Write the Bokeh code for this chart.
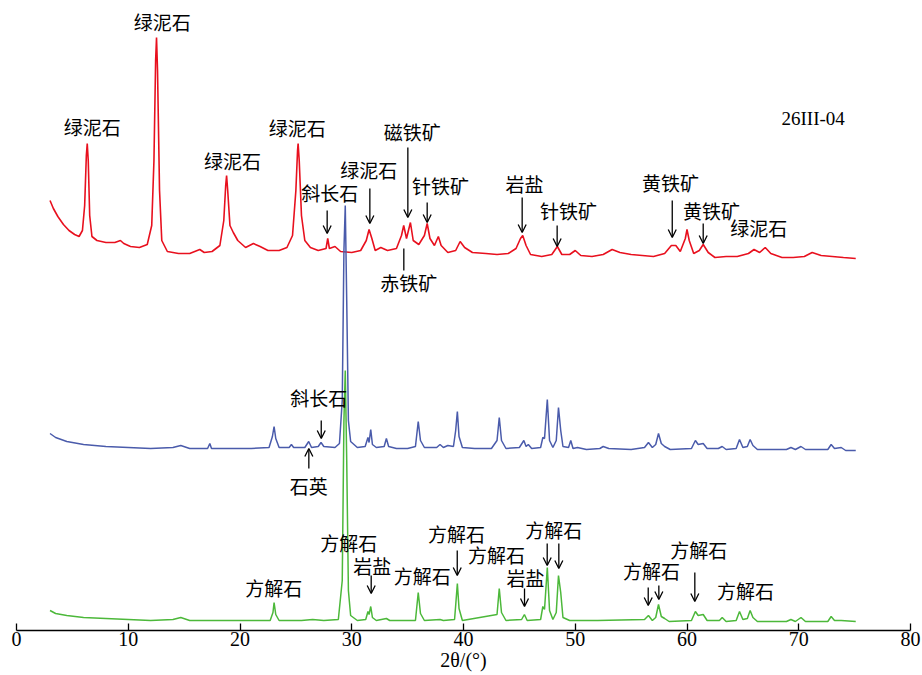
from bokeh.plotting import figure
from bokeh.models import Range1d, FixedTicker, ColumnDataSource, Arrow, OpenHead
from bokeh.core.properties import value
from bokeh.embed import file_html
from bokeh.resources import INLINE

# ---------------- data (2θ in degrees, intensity in arbitrary units incl. offset) -------------
red_x = [3.0, 3.3, 3.7, 4.2, 4.7, 5.2, 5.6, 5.9, 6.1, 6.25, 6.33, 6.42, 6.55, 6.75, 7.2, 8.0,
         8.8, 9.3, 9.6, 10.2, 11.0, 11.7, 12.1, 12.3, 12.45, 12.53, 12.62, 12.8, 13.0, 13.5,
         14.5, 15.5, 16.4, 16.8, 17.5, 18.2, 18.55, 18.72, 18.8, 18.9, 19.1, 19.4, 19.8, 20.5,
         21.2, 21.8, 22.5, 23.5, 24.2, 24.7, 25.0, 25.15, 25.2, 25.3, 25.5, 25.8, 26.3, 27.0,
         27.7, 27.85, 28.0, 28.5, 29.0, 30.0, 30.8, 31.3, 31.55, 31.8, 32.1, 32.6, 33.2, 34.0,
         34.45, 34.65, 34.9, 35.25, 35.5, 36.0, 36.5, 36.75, 37.0, 37.4, 37.75, 38.0, 38.6,
         39.3, 39.7, 40.1, 40.8, 42.0, 43.0, 44.0, 44.7, 45.1, 45.3, 45.6, 46.0, 47.0, 47.9,
         48.4, 48.8, 49.5, 50.0, 50.5, 51.5, 52.5, 53.3, 54.0, 55.0, 56.0, 57.0, 58.0, 58.6,
         59.0, 59.4, 59.85, 60.0, 60.2, 60.6, 61.1, 61.45, 61.9, 62.5, 63.5, 64.5, 65.5, 66.0,
         66.5, 67.0, 67.5, 68.5, 69.5, 70.5, 71.2, 72.0, 73.0, 74.0, 75.1]
red_y = [430, 422, 414, 406, 400, 396, 394, 400, 425, 475, 487, 470, 415, 394, 390, 388,
         388, 390, 387, 384, 383, 386, 405, 470, 570, 593, 560, 440, 390, 379,
         377, 377, 381, 378, 379, 385, 410, 445, 455, 440, 405, 398, 390, 383,
         387, 384, 380, 380, 383, 395, 440, 480, 487, 470, 415, 390, 383, 380,
         382, 392, 382, 384, 379, 378, 380, 390, 401, 392, 380, 383, 380, 382,
         395, 405, 392, 408, 390, 386, 395, 407, 392, 385, 394, 385, 378,
         380, 389, 383, 378, 377, 376, 377, 382, 392, 395, 385, 376, 374, 376,
         384, 376, 376, 380, 375, 374, 376, 381, 378, 376, 375, 374, 377, 385,
         385, 379, 392, 401, 390, 377, 380, 386, 378, 373, 374, 374, 377, 381,
         378, 383, 377, 373, 373, 374, 378, 375, 374, 373, 372]

blue_x = [3.0, 3.5, 4.5, 6.0, 8.0, 10.0, 12.0, 14.0, 14.7, 15.5, 17.1, 17.3, 17.45, 19.0, 21.0,
          22.6, 22.9, 23.05, 23.2, 23.5, 24.4, 24.6, 24.8, 25.8, 26.15, 26.4, 27.0, 27.25,
          27.5, 28.5, 28.9, 29.15, 29.3, 29.42, 29.55, 29.7, 29.9, 30.5, 31.2, 31.45, 31.55,
          31.7, 31.85, 32.2, 32.9, 33.1, 33.3, 34.0, 35.0, 35.7, 35.95, 36.15, 36.5, 37.6,
          37.9, 38.2, 38.6, 39.1, 39.3, 39.45, 39.6, 39.9, 41.0, 42.5, 43.0, 43.2, 43.4, 43.8,
          45.0, 45.4, 45.6, 45.8, 46.1, 46.9, 47.1, 47.25, 47.5, 47.7, 48.0, 48.3, 48.5, 48.7,
          48.9, 49.4, 49.6, 49.8, 50.2, 51.0, 52.2, 52.5, 53.0, 55.0, 56.2, 56.55, 56.9, 57.2,
          57.45, 57.7, 58.0, 58.5, 60.4, 60.75, 61.0, 61.45, 61.8, 62.8, 63.15, 63.5, 64.4,
          64.7, 65.0, 65.4, 65.65, 65.9, 66.3, 68.9, 69.3, 69.7, 70.2, 70.6, 72.6, 72.9, 73.2,
          73.8, 74.2, 75.1]
blue_y = [197, 193, 189, 186, 184, 183, 182, 183, 185, 182, 182, 187, 182, 182, 182,
          183, 194, 204, 192, 183, 183, 186, 183, 183, 189, 183, 184, 188,
          184, 183, 187, 230, 380, 425, 330, 210, 189, 183, 184, 193, 188,
          201, 186, 183, 184, 192, 184, 182, 182, 184, 209, 190, 183, 183,
          186, 183, 185, 184, 200, 219, 194, 183, 182, 182, 190, 213, 190, 182,
          183, 190, 184, 186, 182, 183, 193, 192, 231, 190, 183, 190, 223, 200,
          184, 183, 190, 182, 183, 181, 182, 184, 182, 181, 183, 188, 183, 186,
          197, 187, 184, 181, 182, 190, 186, 187, 182, 182, 184, 181, 182,
          191, 183, 184, 191, 185, 181, 181, 183, 181, 184, 181, 181, 186, 182,
          183, 180, 180]

green_x = [3.0, 3.5, 4.5, 6.0, 8.0, 10.0, 12.0, 14.0, 14.7, 15.5, 17.0, 19.0, 21.0, 22.7,
           22.95, 23.05, 23.2, 23.5, 25.5, 26.5, 27.5, 28.8, 29.15, 29.3, 29.42, 29.55, 29.7,
           29.9, 30.5, 31.25, 31.45, 31.55, 31.7, 31.85, 32.2, 33.1, 33.4, 35.7, 35.95, 36.15,
           36.5, 37.9, 38.2, 39.2, 39.3, 39.45, 39.6, 39.9, 43.0, 43.2, 43.4, 43.8, 45.2,
           45.45, 45.7, 46.9, 47.1, 47.25, 47.5, 47.7, 48.0, 48.3, 48.5, 48.7, 48.9, 49.5,
           52.0, 56.2, 56.55, 56.9, 57.2, 57.45, 57.7, 58.0, 58.4, 60.4, 60.75, 61.0, 61.45,
           61.8, 62.9, 63.15, 63.5, 64.4, 64.7, 65.0, 65.4, 65.65, 65.9, 66.3, 68.9, 69.3,
           69.7, 70.2, 70.6, 72.6, 72.9, 73.2, 73.8, 75.1]
green_y = [20, 17, 15, 13, 12, 11, 10, 11, 13, 10, 10, 10, 10, 10,
           18, 28, 16, 10, 10, 11, 10, 11, 50, 210, 260, 170, 40,
           15, 10, 11, 19, 16, 24, 13, 10, 12, 10, 10, 38, 17,
           10, 11, 10, 11, 25, 47, 22, 10, 16, 42, 18, 10, 11,
           16, 10, 11, 24, 21, 63, 20, 11, 18, 55, 38, 13, 10,
           10, 11, 15, 10, 13, 26, 14, 12, 9, 10, 19, 15, 16,
           10, 10, 13, 9, 10, 19, 11, 12, 20, 13, 9, 9, 11,
           9, 13, 9, 9, 14, 10, 10, 9]

# phase labels
lab_text = ["绿泥石", "绿泥石", "绿泥石", "绿泥石", "斜长石", "绿泥石", "磁铁矿", "针铁矿",
            "赤铁矿", "岩盐", "针铁矿", "黄铁矿", "黄铁矿", "绿泥石",
            "斜长石", "石英",
            "方解石", "方解石", "岩盐", "方解石", "方解石", "方解石", "岩盐", "方解石",
            "方解石", "方解石", "方解石"]
lab_x = [6.77, 13.04, 19.33, 25.12, 28.04, 31.53, 35.41, 37.94,
         35.11, 45.45, 49.4, 58.52, 62.19, 66.42,
         27.05, 26.16,
         23.02, 29.74, 31.83, 36.3, 39.37, 42.95, 45.55, 48.08,
         56.82, 61.06, 65.23]
lab_y = [504, 609, 470, 503, 438, 461, 499, 445,
         348, 447, 420, 448, 420, 403,
         233, 145,
         43, 88, 65, 55, 97, 76, 53, 101,
         60, 81, 40]

# arrows: x, start, end (pointing to peaks)
arr_x = [27.8, 31.62, 35.02, 36.75, 45.25, 48.38, 58.68, 61.45,
         27.27, 26.16,
         31.74, 39.44, 45.46, 47.49, 48.53, 56.53, 57.48, 60.7]
arr_y0 = [420, 442, 483, 428, 433, 405, 430, 407,
          210, 162,
          55, 80, 42, 87, 87, 43, 45, 58]
arr_y1 = [397, 407, 413, 408, 398, 384, 393, 387,
          192, 182,
          37, 55, 24, 65, 62, 25, 31, 29]

# leader line without head (赤铁矿)
lead_x = [34.66, 34.66]
lead_y = [360, 382]

sample_name = "26III-04"
sample_pos = (71.29, 512)
x_ticks = [0, 10, 20, 30, 40, 50, 60, 70, 80]
x_title = "2θ/(°)"

SERIF = "'Liberation Serif', 'Times New Roman', serif"

# ---------------- figure ----------------
p = figure(frame_width=894, frame_height=622, output_backend="svg", toolbar_location=None,
           x_range=Range1d(0, 80), y_range=Range1d(0, 622),
           min_border_left=16, min_border_right=12, min_border_top=8, min_border_bottom=0)
p.outline_line_color = None
p.background_fill_color = "white"
p.border_fill_color = "white"
p.xgrid.visible = False
p.ygrid.visible = False
p.yaxis.visible = False

ax = p.xaxis[0]
ax.ticker = FixedTicker(ticks=x_ticks)
ax.axis_line_color = "black"
ax.axis_line_width = 1.3
ax.major_tick_in = 7
ax.major_tick_out = 0
ax.major_tick_line_color = "black"
ax.major_tick_line_width = 1.3
ax.minor_tick_line_color = None
ax.major_label_text_font = SERIF
ax.major_label_text_font_size = "20px"
ax.major_label_text_color = "black"
ax.major_label_standoff = 1
ax.axis_label = x_title
ax.axis_label_text_font = SERIF
ax.axis_label_text_font_style = "normal"
ax.axis_label_text_font_size = "20px"
ax.axis_label_text_color = "black"
ax.axis_label_standoff = 0

p.line(red_x, red_y, line_color="#e8101e", line_width=1.6)
p.line(blue_x, blue_y, line_color="#4a5bab", line_width=1.5)
p.line(green_x, green_y, line_color="#4cb83a", line_width=1.5)

src = ColumnDataSource(dict(x=lab_x, y=lab_y, t=lab_text))
p.text(x="x", y="y", text="t", source=src, text_align="center", text_baseline="middle",
       text_font=value("Noto Sans CJK SC"), text_font_size="19px", text_color="black")

p.text(x=[sample_pos[0]], y=[sample_pos[1]], text=[sample_name], text_align="center",
       text_baseline="middle", text_font=value("Liberation Serif"), text_font_size="19px",
       text_color="black")

asrc = ColumnDataSource(dict(x0=arr_x, y0=arr_y0, x1=arr_x, y1=arr_y1))
p.add_layout(Arrow(x_start="x0", y_start="y0", x_end="x1", y_end="y1", source=asrc,
                   line_color="black", line_width=1.3, start=None,
                   end=OpenHead(size=8, line_color="black", line_width=1.3)))
p.line(lead_x, lead_y, line_color="black", line_width=1.3)

open("out.html", "w").write(file_html(p, INLINE))
